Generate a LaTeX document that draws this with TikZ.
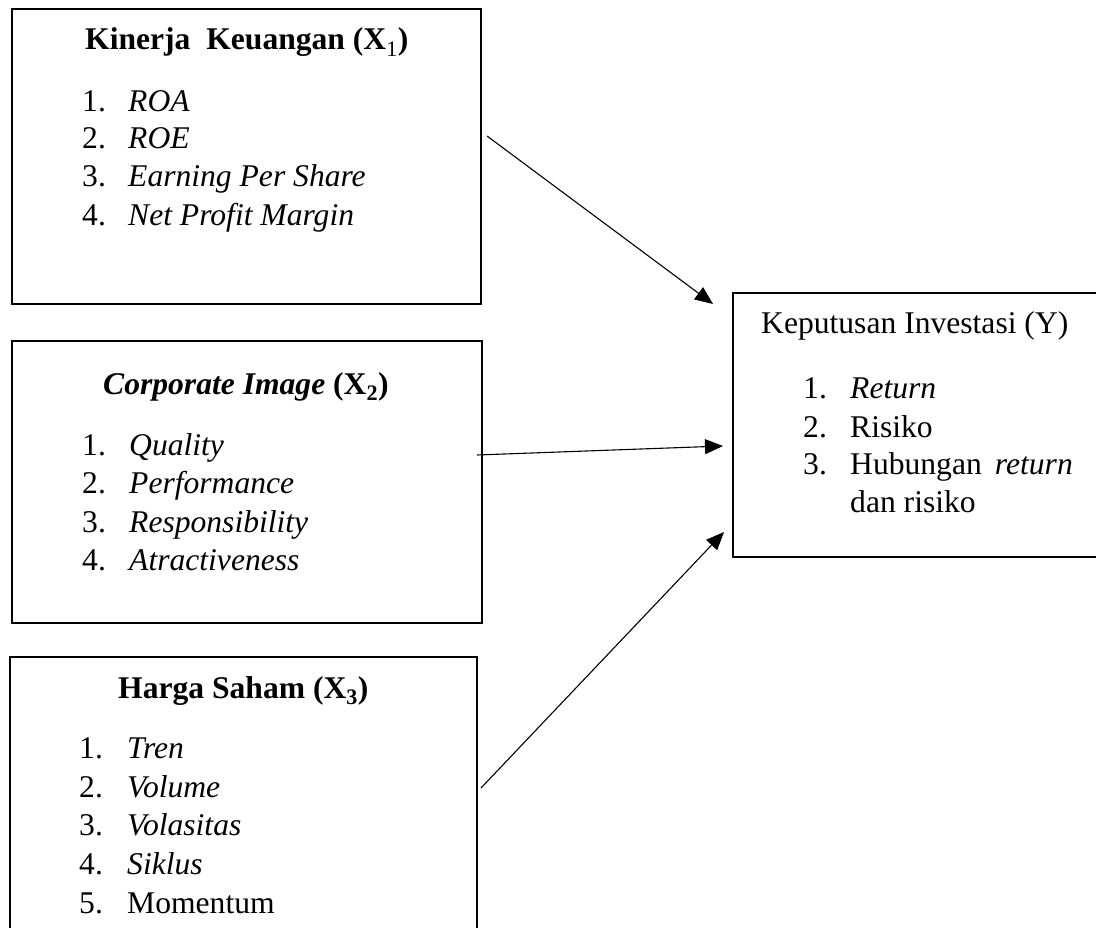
\documentclass[tikz,border=0pt]{standalone}
\usepackage{fontspec}
\setmainfont{Liberation Serif}[
  BoldFont={* Bold},
  ItalicFont={* Italic},
  BoldItalicFont={* Bold Italic}]
\usetikzlibrary{arrows.meta}
\begin{document}
\begin{tikzpicture}[x=1pt,y=-1pt,
  box/.style={draw=black, line width=2.7pt, inner sep=0pt, rectangle},
  txt/.style={inner sep=0pt, anchor=base west, font=\fontsize{31.6}{38}\selectfont},
  conn/.style={line width=1.1pt, -{Triangle[length=18pt,width=15pt]}}]
\useasboundingbox (0,0) rectangle (1096,928);
\fill[white] (0,0) rectangle (1096,928);
% boxes
\node[box, minimum width=469pt, minimum height=295pt] (b1) at (246.5,156.5) {};
\node[box, minimum width=470pt, minimum height=282pt] (b2) at (247,482) {};
\node[box, minimum width=467pt, minimum height=283pt] (b3) at (243.5,798.5) {};
\node[box, minimum width=371pt, minimum height=264pt] (by) at (918.5,425) {};
% box 1
\node[txt] (t1) at (85,50) {\bfseries Kinerja~ Keuangan (X\textsubscript{\mdseries 1})};
\node[txt] (n11) at (82,112) {1.};  \node[txt] (i11) at (128,112) {\itshape ROA};
\node[txt] (n12) at (82,149) {2.};  \node[txt] (i12) at (128,149) {\itshape ROE};
\node[txt] (n13) at (82,187) {3.};  \node[txt] (i13) at (128,187) {\itshape Earning Per Share};
\node[txt] (n14) at (82,226) {4.};  \node[txt] (i14) at (128,226) {\itshape Net Profit Margin};
% box 2
\node[txt] (t2) at (103,394) {\bfseries\itshape Corporate Image \upshape(X\textsubscript{2})};
\node[txt] (n21) at (82,455) {1.};  \node[txt] (i21) at (129,455) {\itshape Quality};
\node[txt] (n22) at (82,493) {2.};  \node[txt] (i22) at (129,493) {\itshape Performance};
\node[txt] (n23) at (82,532) {3.};  \node[txt] (i23) at (129,532) {\itshape Responsibility};
\node[txt] (n24) at (82,570) {4.};  \node[txt] (i24) at (129,570) {\itshape Atractiveness};
% box 3
\node[txt] (t3) at (118,698) {\bfseries Harga Saham (X\textsubscript{3})};
\node[txt] (n31) at (79,758) {1.};  \node[txt] (i31) at (127,758) {\itshape Tren};
\node[txt] (n32) at (79,797) {2.};  \node[txt] (i32) at (127,797) {\itshape Volume};
\node[txt] (n33) at (79,835) {3.};  \node[txt] (i33) at (127,835) {\itshape Volasitas};
\node[txt] (n34) at (79,874) {4.};  \node[txt] (i34) at (127,874) {\itshape Siklus};
\node[txt] (n35) at (79,913) {5.};  \node[txt] (i35) at (127,913) {Momentum};
% box Y
\node[txt] (ty) at (761,334) {Keputusan Investasi (Y)};
\node[txt] (ny1) at (803,398) {1.};  \node[txt] (iy1) at (850,398) {\itshape Return};
\node[txt] (ny2) at (803,437) {2.};  \node[txt] (iy2) at (850,437) {Risiko};
\node[txt] (ny3) at (803,474) {3.};  \node[txt] (iy3) at (850,474) {Hubungan};
\node[txt, anchor=base east] (iy3b) at (1073,474) {\itshape return};
\node[txt] (iy4) at (850,512) {dan risiko};
% connectors
\coordinate (s1) at (487,136);
\coordinate (e1) at (713,304);
\coordinate (s2) at (477,455);
\coordinate (e2) at (723,446);
\coordinate (s3) at (481,788);
\coordinate (e3) at (724,532);
\draw[conn] (s1) -- (e1);
\draw[conn] (s2) -- (e2);
\draw[conn] (s3) -- (e3);
\end{tikzpicture}
\end{document}
